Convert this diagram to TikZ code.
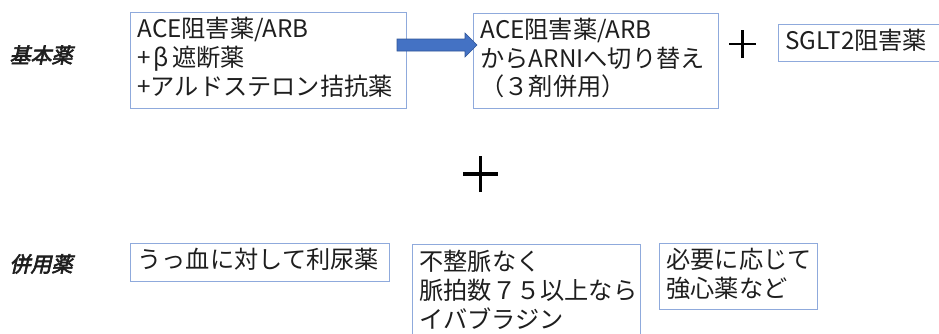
\documentclass[tikz,border=0pt]{standalone}
\usepackage{fontspec}
\setmainfont{Noto Sans CJK JP}
\newfontfamily\lblfont[FakeSlant=0.22,FakeBold=3]{Noto Sans CJK JP}
\definecolor{boxblue}{HTML}{8FAADC}
\definecolor{arrowfill}{HTML}{4472C4}
\definecolor{arrowedge}{HTML}{2F5597}
\definecolor{txt}{HTML}{1E1E1E}
\tikzset{
  drugbox/.style={draw=boxblue, line width=1.1pt, rectangle, anchor=north west,
    inner xsep=7pt, inner ysep=0pt, align=left, text=txt,
    font=\fontsize{24.2}{28.8}\selectfont,
    execute at end node={\par\vspace{6pt}}},
  grouplabel/.style={text=txt, font=\lblfont\fontsize{21}{24}\selectfont},
  plusmark/.style={line width=#1, draw=black, line cap=butt}
}
\begin{document}
\begin{tikzpicture}[x=1pt,y=-1pt]
\useasboundingbox (0,0) rectangle (939,333);
% labels
\node[grouplabel] (l1) at (41,55) {基本薬};
\node[grouplabel] (l2) at (41,264) {併用薬};
% top row
\node[drugbox, minimum width=276pt, minimum height=96pt, text width=262pt] (b1) at (130,12)
  {ACE阻害薬/ARB\\+\hspace{3pt}β\hspace{3pt}遮断薬\\+アルドステロン拮抗薬};
\node[drugbox, minimum width=245pt, minimum height=95pt, text width=231pt] (b2) at (473,13)
  {ACE阻害薬/ARB\\からARNIへ切り替え\\（３剤併用）};
\node[drugbox, minimum width=170pt, minimum height=37pt, text width=156pt] (b3) at (778,24)
  {SGLT2阻害薬};
% arrow
\fill[arrowfill, draw=arrowedge, line width=0.6pt]
  (397,39) -- (465,39) -- (465,33) -- (477,45) -- (465,57) -- (465,51) -- (397,51) -- cycle;
% plus signs
\coordinate (p1) at (742.5,44);
\draw[plusmark=2.6pt] ([xshift=-13.5pt]p1) -- ([xshift=13.5pt]p1);
\draw[plusmark=2.6pt] ([yshift=-14pt]p1) -- ([yshift=14pt]p1);
\coordinate (p2) at (480.5,174);
\draw[plusmark=3.2pt] ([xshift=-17.5pt]p2) -- ([xshift=17.5pt]p2);
\draw[plusmark=3.2pt] ([yshift=-18pt]p2) -- ([yshift=18pt]p2);
% bottom row
\node[drugbox, minimum width=259pt, minimum height=38pt, text width=245pt] (b4) at (130,243)
  {うっ血に対して利尿薬};
\node[drugbox, minimum width=228pt, minimum height=96pt, text width=214pt] (b5) at (412,244)
  {不整脈なく\\脈拍数７５以上なら\\イバブラジン};
\node[drugbox, minimum width=158pt, minimum height=66pt, text width=144pt] (b6) at (659,243)
  {必要に応じて\\強心薬など};
\end{tikzpicture}
\end{document}
